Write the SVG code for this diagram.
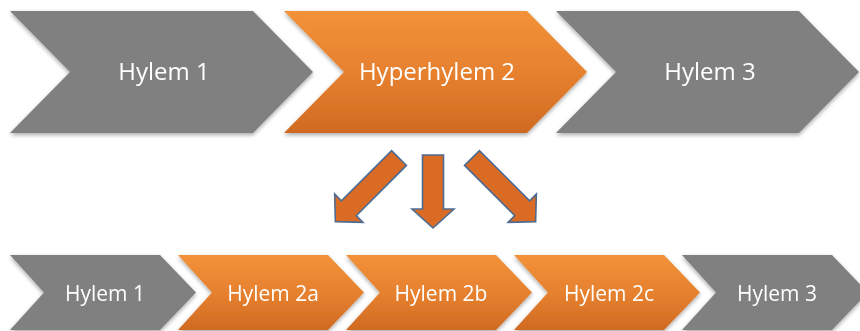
<svg xmlns="http://www.w3.org/2000/svg" width="860" height="331" viewBox="0 0 860 331">
  <defs>
    <linearGradient id="orangeGrad" x1="0" y1="0" x2="0" y2="1">
      <stop offset="0" stop-color="#F29239"/>
      <stop offset="0.55" stop-color="#E57F2E"/>
      <stop offset="1" stop-color="#CF6A22"/>
    </linearGradient>
    <filter id="shadow" x="-10%" y="-10%" width="120%" height="130%">
      <feGaussianBlur in="SourceAlpha" stdDeviation="2.2"/>
      <feOffset dx="0" dy="2" result="blur"/>
      <feComponentTransfer><feFuncA type="linear" slope="0.35"/></feComponentTransfer>
      <feMerge><feMergeNode/><feMergeNode in="SourceGraphic"/></feMerge>
    </filter>
    <!-- large chevron: 303 wide, 122 high -->
    <polygon id="bigChevron" points="0,0 243,0 303,61 243,122 0,122 60,61"/>
    <!-- small chevron: 186 wide, 75 high -->
    <polygon id="smallChevron" points="0,0 150,0 186,37.5 150,75 0,75 34,37.5"/>
    <!-- block arrow pointing down from its shaft top -->
    <path id="shortArrow" d="M-10.5,0 H10.5 V54 H21 L0,73 L-21,54 H-10.5 Z"/>
    <path id="longArrow" d="M-10.5,0 H10.5 V71 H20 L0,90 L-20,71 H-10.5 Z"/>
  </defs>
  <style>
    .grey { fill: #808080; }
    .orange { fill: url(#orangeGrad); }
    .chev { filter: url(#shadow); }
    .big { font-family: "Open Sans", "Noto Sans", "Liberation Sans", sans-serif; font-size: 24px; fill: #ffffff; text-anchor: middle; }
    .small { font-family: "Open Sans", "Noto Sans", "Liberation Sans", sans-serif; font-size: 21px; fill: #ffffff; text-anchor: middle; }
    .arrow { fill: #D96B25; stroke: #4E6C92; stroke-width: 1.6; stroke-linejoin: miter; }
  </style>

  <!-- top row -->
  <g id="top-hylem1" class="chev">
    <use href="#bigChevron" x="10" y="11" class="grey"/>
    <text x="164" y="80" class="big">Hylem 1</text>
  </g>
  <g id="top-hyperhylem2" class="chev">
    <use href="#bigChevron" x="284" y="11" class="orange"/>
    <text x="437" y="80" class="big">Hyperhylem 2</text>
  </g>
  <g id="top-hylem3" class="chev">
    <use href="#bigChevron" x="556" y="11" class="grey"/>
    <text x="710" y="80" class="big">Hylem 3</text>
  </g>

  <!-- arrows from the hyperhylem down to its parts -->
  <g id="connectors" class="arrow">
    <use href="#longArrow" transform="translate(399,158) rotate(45)"/>
    <use href="#shortArrow" transform="translate(433,155)"/>
    <use href="#longArrow" transform="translate(472,158) rotate(-45)"/>
  </g>

  <!-- bottom row -->
  <g id="bottom-hylem1" class="chev">
    <use href="#smallChevron" x="10" y="255" class="grey"/>
    <text x="105" y="301" class="small">Hylem 1</text>
  </g>
  <g id="bottom-hylem2a" class="chev">
    <use href="#smallChevron" x="178" y="255" class="orange"/>
    <text x="273" y="301" class="small">Hylem 2a</text>
  </g>
  <g id="bottom-hylem2b" class="chev">
    <use href="#smallChevron" x="346" y="255" class="orange"/>
    <text x="441" y="301" class="small">Hylem 2b</text>
  </g>
  <g id="bottom-hylem2c" class="chev">
    <use href="#smallChevron" x="514" y="255" class="orange"/>
    <text x="609" y="301" class="small">Hylem 2c</text>
  </g>
  <g id="bottom-hylem3" class="chev">
    <use href="#smallChevron" x="682" y="255" class="grey"/>
    <text x="777" y="301" class="small">Hylem 3</text>
  </g>
</svg>
